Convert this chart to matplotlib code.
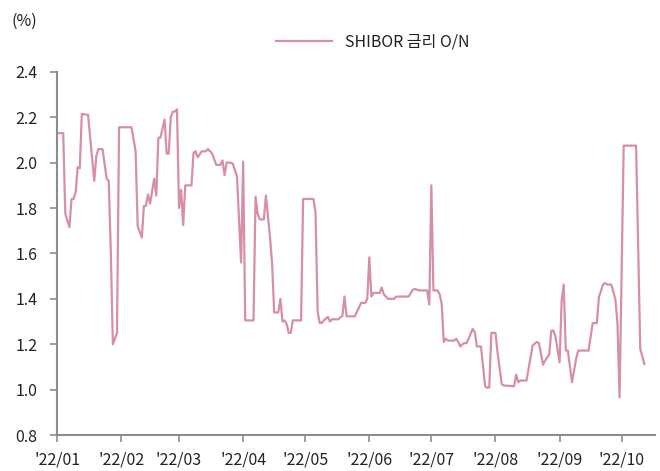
import matplotlib
matplotlib.use('Agg')
import matplotlib.pyplot as plt
import matplotlib.dates as mdates
import pandas as pd

# SHIBOR 금리 O/N (%), 2022
dates = ['01-01', '01-04', '01-05', '01-07', '01-08', '01-09', '01-10', '01-11', '01-12', '01-13',
         '01-16', '01-19', '01-20', '01-21', '01-23', '01-25', '01-26', '01-27', '01-28', '01-30',
         '01-31', '02-06', '02-08', '02-09', '02-11', '02-12', '02-13', '02-14', '02-15', '02-17',
         '02-18', '02-19', '02-20', '02-22', '02-23', '02-24', '02-25', '02-26', '02-27', '02-28',
         '03-01', '03-02', '03-03', '03-04', '03-07', '03-08', '03-09', '03-10', '03-12', '03-14',
         '03-15', '03-16', '03-17', '03-19', '03-21', '03-22', '03-23', '03-24', '03-26', '03-27',
         '03-29', '03-31', '04-01', '04-02', '04-06', '04-07', '04-08', '04-09', '04-11', '04-12',
         '04-14', '04-15', '04-16', '04-18', '04-19', '04-20', '04-21', '04-22', '04-23', '04-24',
         '04-25', '04-29', '04-30', '05-05', '05-06', '05-07', '05-08', '05-09', '05-10', '05-12',
         '05-13', '05-14', '05-17', '05-19', '05-20', '05-21', '05-25', '05-28', '05-30', '05-31',
         '06-01', '06-02', '06-03', '06-06', '06-07', '06-08', '06-10', '06-13', '06-14', '06-20',
         '06-22', '06-23', '06-25', '06-29', '06-30', '07-01', '07-02', '07-04', '07-05', '07-06',
         '07-07', '07-08', '07-09', '07-12', '07-13', '07-14', '07-15', '07-16', '07-17', '07-18',
         '07-19', '07-21', '07-22', '07-23', '07-25', '07-27', '07-28', '07-29', '07-30', '08-01',
         '08-02', '08-04', '08-05', '08-10', '08-11', '08-12', '08-13', '08-16', '08-18', '08-19',
         '08-21', '08-22', '08-24', '08-25', '08-27', '08-28', '08-29', '08-30', '09-01', '09-02',
         '09-03', '09-04', '09-05', '09-07', '09-09', '09-10', '09-15', '09-17', '09-19', '09-20',
         '09-22', '09-23', '09-24', '09-26', '09-28', '09-29', '09-30', '10-02', '10-08', '10-10',
         '10-12']
rate = [2.13, 2.13, 1.775, 1.715, 1.84, 1.84, 1.87, 1.98, 1.975, 2.215,
        2.21, 1.92, 2.03, 2.06, 2.06, 1.93, 1.92, 1.61, 1.20, 1.25,
        2.156, 2.156, 2.05, 1.72, 1.67, 1.81, 1.81, 1.86, 1.82, 1.93,
        1.855, 2.11, 2.11, 2.19, 2.04, 2.04, 2.20, 2.225, 2.225, 2.235,
        1.80, 1.88, 1.725, 1.90, 1.90, 2.043, 2.05, 2.024, 2.05, 2.05,
        2.06, 2.05, 2.04, 1.99, 1.99, 2.01, 1.945, 2.00, 2.00, 1.995,
        1.94, 1.56, 2.005, 1.305, 1.305, 1.85, 1.775, 1.75, 1.75, 1.855,
        1.67, 1.555, 1.34, 1.34, 1.40, 1.30, 1.305, 1.29, 1.25, 1.25,
        1.305, 1.305, 1.84, 1.84, 1.78, 1.345, 1.294, 1.294, 1.305, 1.32,
        1.30, 1.31, 1.31, 1.326, 1.41, 1.323, 1.323, 1.382, 1.382, 1.40,
        1.583, 1.41, 1.426, 1.426, 1.45, 1.42, 1.40, 1.40, 1.41, 1.41,
        1.44, 1.444, 1.437, 1.437, 1.375, 1.90, 1.437, 1.437, 1.42, 1.378,
        1.21, 1.224, 1.216, 1.216, 1.224, 1.21, 1.19, 1.20, 1.205, 1.205,
        1.224, 1.268, 1.253, 1.19, 1.19, 1.015, 1.008, 1.01, 1.25, 1.25,
        1.165, 1.025, 1.018, 1.015, 1.066, 1.033, 1.04, 1.04, 1.143, 1.195,
        1.21, 1.205, 1.11, 1.128, 1.155, 1.26, 1.26, 1.235, 1.12, 1.393,
        1.463, 1.172, 1.172, 1.033, 1.136, 1.172, 1.172, 1.293, 1.293, 1.407,
        1.463, 1.47, 1.463, 1.463, 1.397, 1.29, 0.966, 2.075, 2.075, 1.18,
        1.113]
yticks = [0.8, 1.0, 1.2, 1.4, 1.6, 1.8, 2.0, 2.2, 2.4]

plt.rcParams['font.family'] = ['Noto Sans CJK KR', 'DejaVu Sans']

fig = plt.figure(figsize=(6.6, 4.71), dpi=100)
ax = fig.add_axes([0.0864, 0.0764, 0.9056, 0.771])

x = pd.to_datetime(['2022-' + d for d in dates])
ax.plot(x, rate, color='#d68fa6', lw=1.6, label='SHIBOR 금리 O/N')

ax.set_ylim(0.8, 2.4)
ax.set_yticks(yticks)
ax.set_yticklabels(['%.1f' % v for v in yticks])
ax.set_xlim(pd.Timestamp('2022-01-01'), pd.Timestamp('2022-10-17'))
ax.xaxis.set_major_locator(mdates.MonthLocator())
ax.xaxis.set_major_formatter(mdates.DateFormatter("'%y/%m"))

for s in ['top', 'right']:
    ax.spines[s].set_visible(False)
for s in ['left', 'bottom']:
    ax.spines[s].set_color('#8c8c8c')
    ax.spines[s].set_linewidth(1.5)
ax.tick_params(axis='both', colors='#8c8c8c', length=5, width=1.2, labelsize=11.5, labelcolor='#222222')
ax.tick_params(axis='y', pad=9)
ax.tick_params(axis='x', pad=7)

fig.text(0.018, 0.945, '(%)', fontsize=11.5, color='#222222')
fig.legend(loc='center', bbox_to_anchor=(0.565, 0.911), frameon=False, handlelength=3.5,
           fontsize=11.5, labelcolor='#222222')

fig.savefig('out.png', dpi=100)
